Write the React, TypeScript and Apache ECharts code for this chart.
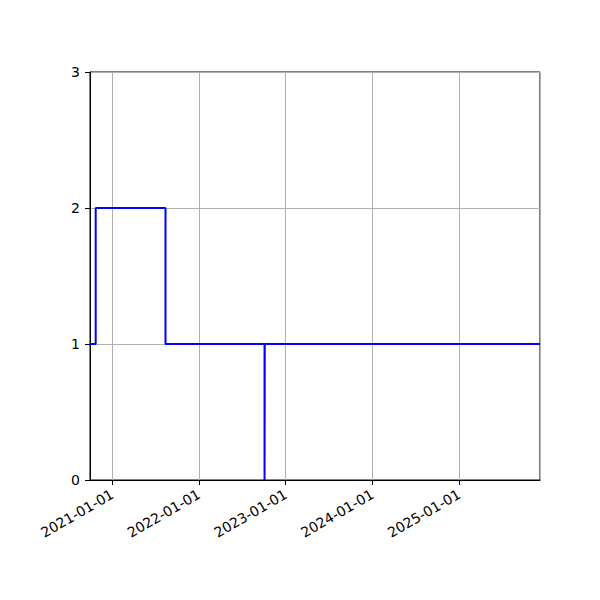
import React, { useEffect, useRef } from 'react';
import * as echarts from 'echarts';

// step series (post)
const stepDates = ['2020-09-29', '2020-10-23', '2021-08-13', '2022-10-04', '2022-10-05', '2025-12-07'];
const stepValues = [1, 2, 1, 0, 1, 1];

const xStart = '2020-09-29';
const xEnd = '2025-12-07';
const yTicks = [0, 1, 2, 3];

const ts = (d: string) => new Date(d + 'T00:00:00Z').getTime();

export default function App() {
  const chartRef = useRef<HTMLDivElement>(null);

  useEffect(() => {
    if (!chartRef.current) return;
    const myChart = echarts.init(chartRef.current, null, { renderer: 'svg' });

    const data = stepDates.map((d, i) => [ts(d), stepValues[i]]);
    const font = 'DejaVu Sans';

    const option = {
      animation: false,
      grid: {
        left: 90,
        right: 60,
        top: 72,
        bottom: 120,
        show: true,
        borderColor: '#000',
        borderWidth: 1,
        backgroundColor: 'transparent'
      },
      xAxis: {
        type: 'time',
        min: ts(xStart),
        max: ts(xEnd),
        minInterval: 365 * 24 * 3600 * 1000,
        axisLine: { show: true, lineStyle: { color: '#000', width: 1 } },
        axisTick: { show: true, length: 5, lineStyle: { color: '#000', width: 1 } },
        minorTick: { show: false },
        splitLine: { show: true, lineStyle: { color: '#b0b0b0', width: 1 } },
        axisLabel: {
          rotate: 30,
          margin: 13,
          color: '#000',
          fontSize: 14,
          fontFamily: font,
          hideOverlap: false,
          showMinLabel: false,
          showMaxLabel: false,
          formatter: (v: number) => {
            const dt = new Date(v);
            const m = String(dt.getUTCMonth() + 1).padStart(2, '0');
            const d = String(dt.getUTCDate()).padStart(2, '0');
            return `${dt.getUTCFullYear()}-${m}-${d}`;
          }
        }
      },
      yAxis: {
        type: 'value',
        min: yTicks[0],
        max: yTicks[yTicks.length - 1],
        interval: 1,
        axisLine: { show: true, lineStyle: { color: '#000', width: 1 } },
        axisTick: { show: true, length: 5, lineStyle: { color: '#000', width: 1 } },
        splitLine: { show: true, lineStyle: { color: '#b0b0b0', width: 1 } },
        axisLabel: { color: '#000', fontSize: 14, fontFamily: font, margin: 10 }
      },
      series: [
        {
          type: 'line',
          step: 'end',
          data,
          showSymbol: false,
          symbol: 'none',
          lineStyle: { color: '#0000ff', width: 2 },
          clip: true
        }
      ]
    };

    myChart.setOption(option);
    return () => {
      myChart.dispose();
    };
  }, []);

  return (
    <div
      ref={chartRef}
      style={{ position: 'fixed', left: 0, top: 0, width: 600, height: 600, background: '#fff' }}
    />
  );
}
